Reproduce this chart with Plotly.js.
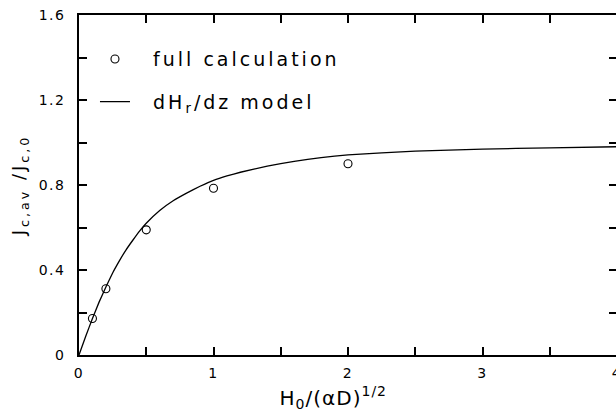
<!DOCTYPE html>
<html>
<head>
<meta charset="utf-8">
<script src="https://cdn.plot.ly/plotly-3.0.1.min.js"></script>
<style>
html,body{margin:0;padding:0;overflow:hidden;background:#fff;width:616px;height:412px;}
#chart{width:618px;height:412px;}
.legendtext{letter-spacing:3px;}
.xtitle{letter-spacing:1px;}
.ytitle{letter-spacing:3px;}
.xtick text,.ytick text{letter-spacing:1.5px;}
</style>
</head>
<body>
<div id="chart"></div>
<script>
// Full calculation (open circles)
var calcX = [0.1, 0.2, 0.5, 1.0, 2.0];
var calcY = [0.172, 0.312, 0.589, 0.785, 0.900];

// dHr/dz model (solid line)
var modelX = [0, 0.05, 0.1, 0.15, 0.2, 0.25, 0.3, 0.35, 0.4, 0.45, 0.5, 0.6, 0.7, 0.8, 0.9, 1.0, 1.1, 1.2, 1.4, 1.6, 1.8, 2.0, 2.5, 3.0, 3.5, 4.0];
var modelY = [0, 0.088, 0.172, 0.250, 0.320, 0.386, 0.443, 0.495, 0.540, 0.583, 0.620, 0.680, 0.726, 0.762, 0.794, 0.822, 0.843, 0.860, 0.889, 0.911, 0.929, 0.942, 0.959, 0.969, 0.975, 0.980];

var legendNames = ['\u00A0\u00A0full calculation', '\u00A0\u00A0dH<sub>r</sub>/dz model'];
var xTitle = 'H<sub>0</sub>/(αD)<sup>1/2</sup>\u00A0\u00A0\u00A0\u00A0\u200B';
var yTitle = '\u00A0\u00A0\u00A0\u00A0J<sub>c,av</sub> /J<sub>c,0</sub>';
var xTickVals = [0, 1, 2, 3, 4];
var xTickText = ['0', '1', '2', '3', '4'];
var yTickVals = [0, 0.4, 0.8, 1.2, 1.6];
var yTickText = ['0', '0.4', '0.8', '1.2', '1.6'];

var fontFam = 'DejaVu Sans, sans-serif';

var traces = [
  {
    x: calcX, y: calcY, type: 'scatter', mode: 'markers', name: legendNames[0],
    legendgroup: 'a',
    marker: {symbol: 'circle-open', size: 8, color: '#000', line: {width: 1.1, color: '#000'}}
  },
  {
    x: modelX, y: modelY, type: 'scatter', mode: 'lines', name: legendNames[1],
    xaxis: 'x2', yaxis: 'y2',
    legendgroup: 'b', line: {color: '#000', width: 1.3, shape: 'spline', smoothing: 0.3}
  }
];

var tickStyle = {ticks: 'inside', ticklen: 8, tickwidth: 2, tickcolor: '#000'};

var layout = {
  width: 618, height: 412,
  margin: {l: 79, r: 1, t: 15, b: 57},
  paper_bgcolor: '#fff', plot_bgcolor: '#fff',
  font: {family: fontFam, color: '#000'},
  showlegend: true,
  legend: {
    x: 0.0297, y: 0.926, xanchor: 'left', yanchor: 'top',
    bgcolor: 'rgba(0,0,0,0)', borderwidth: 0,
    font: {family: fontFam, size: 19, color: '#000'},
    traceorder: 'grouped', tracegroupgap: 15, itemwidth: 30
  },
  xaxis: Object.assign({
    range: [0, 4],
    showgrid: false, zeroline: false, showline: true, linecolor: '#000', linewidth: 1.5,
    tickmode: 'array', tickvals: xTickVals, ticktext: xTickText,
    minor: Object.assign({tickmode: 'linear', tick0: 0, dtick: 0.5, showgrid: false}, tickStyle),
    tickfont: {family: fontFam, size: 14, color: '#000'},
    ticklabeloverflow: 'allow',
    ticklabelstandoff: 4,
    title: {text: xTitle, font: {family: fontFam, size: 20, color: '#000'}, standoff: 16}
  }, tickStyle),
  yaxis: Object.assign({
    range: [0, 1.6],
    showgrid: false, zeroline: false, showline: true, linecolor: '#000', linewidth: 1.5,
    tickmode: 'array', tickvals: yTickVals, ticktext: yTickText,
    minor: Object.assign({tickmode: 'linear', tick0: 0, dtick: 0.2, showgrid: false}, tickStyle),
    tickfont: {family: fontFam, size: 14, color: '#000'},
    ticklabelstandoff: 9,
    title: {text: yTitle, font: {family: fontFam, size: 18, color: '#000'}, standoff: 8}
  }, tickStyle),
  xaxis2: Object.assign({
    range: [0, 4], overlaying: 'x', side: 'top', anchor: 'y2',
    showgrid: false, zeroline: false, showline: true, linecolor: '#000', linewidth: 1.5,
    tickmode: 'array', tickvals: xTickVals, showticklabels: false,
    minor: Object.assign({tickmode: 'linear', tick0: 0, dtick: 0.5, showgrid: false}, tickStyle)
  }, tickStyle),
  yaxis2: Object.assign({
    range: [0, 1.6], overlaying: 'y', side: 'right', anchor: 'x2',
    showgrid: false, zeroline: false, showline: true, linecolor: '#000', linewidth: 1.5,
    tickmode: 'array', tickvals: yTickVals, showticklabels: false,
    minor: Object.assign({tickmode: 'linear', tick0: 0, dtick: 0.2, showgrid: false}, tickStyle)
  }, tickStyle)
};

Plotly.newPlot('chart', traces, layout, {displayModeBar: false});
</script>
</body>
</html>
